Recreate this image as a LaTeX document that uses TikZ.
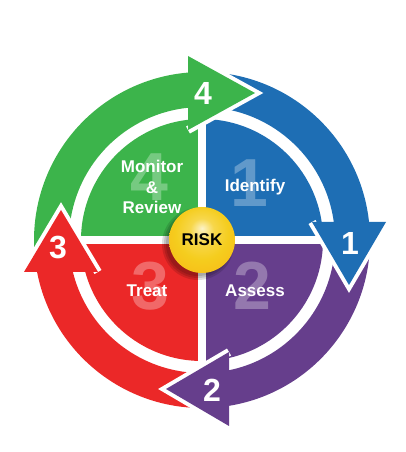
\documentclass[tikz,border=0pt]{standalone}
\usepackage{fontspec}
\setmainfont{Liberation Sans}
\usetikzlibrary{calc}
\definecolor{riskgreen}{RGB}{60,180,75}
\definecolor{riskblue}{RGB}{30,110,180}
\definecolor{riskpurple}{RGB}{102,62,140}
\definecolor{riskred}{RGB}{235,40,40}
\definecolor{riskgold}{RGB}{245,205,30}
\pgfdeclareradialshading{riskball}{\pgfpoint{0bp}{9bp}}{%
  color(0bp)=(riskgold!25!white); color(9bp)=(riskgold!80!white);
  color(20bp)=(riskgold); color(29bp)=(riskgold!85!orange);
  color(34bp)=(riskgold!55!black); color(50bp)=(riskgold!40!black)}

\begin{document}
\begin{tikzpicture}[x=1pt, y=1pt,
      lbl/.style={text=white, font=\fontsize{17}{20.5}\selectfont\bfseries, align=center},
      bignum/.style={text=white, text opacity=.3, font=\fontsize{68}{68}\selectfont\bfseries},
      headnum/.style={text=white, font=\fontsize{32}{32}\selectfont\bfseries},
      gap/.style={draw=white, line width=8pt}]
    \useasboundingbox (0,0) rectangle (406,452);
    \coordinate (c) at (202,212);
    % quadrants
    \fill[riskgreen] (c) -- ++(90:121) arc[start angle=90, end angle=180, radius=121] -- cycle;
    \fill[riskblue] (c) -- ++(0:121) arc[start angle=0, end angle=90, radius=121] -- cycle;
    \fill[riskpurple] (c) -- ++(-90:121) arc[start angle=-90, end angle=0, radius=121] -- cycle;
    \fill[riskred] (c) -- ++(180:121) arc[start angle=180, end angle=270, radius=121] -- cycle;
    \draw[white, line width=8pt] ($(c)+(-125,0)$) -- ($(c)+(125,0)$);
    \draw[white, line width=8pt] ($(c)+(0,-125)$) -- ($(c)+(0,125)$);
    % ring bands
    \fill[riskgreen] ($(c)+(188:168)$) arc[start angle=188, end angle=92, radius=168]
      -- ($(c)+(92:133)$) arc[start angle=92, end angle=188, radius=133] -- cycle;
    \fill[riskblue] ($(c)+(92:168)$) arc[start angle=92, end angle=4, radius=168]
      -- ($(c)+(4:133)$) arc[start angle=4, end angle=92, radius=133] -- cycle;
    \fill[riskpurple] ($(c)+(4:168)$) arc[start angle=4, end angle=-85, radius=168]
      -- ($(c)+(-85:133)$) arc[start angle=-85, end angle=4, radius=133] -- cycle;
    \fill[riskred] ($(c)+(-85:168)$) arc[start angle=-85, end angle=-172, radius=168]
      -- ($(c)+(-172:133)$) arc[start angle=-172, end angle=-85, radius=133] -- cycle;
    % arrow heads
    \draw[gap] (188,396) -- (255,359) -- (188,322);
    \fill[riskgreen] (188,396) -- (255,359) -- (188,322) -- cycle;
    \draw[gap] (312,230) -- (349,167) -- (386,230);
    \fill[riskblue] (312,230) -- (349,167) -- (386,230) -- cycle;
    \draw[gap] (229,100) -- (166,63) -- (229,26);
    \fill[riskpurple] (229,100) -- (166,63) -- (229,26) -- cycle;
    \draw[gap] (24,180) -- (61,242) -- (98,180);
    \fill[riskred] (24,180) -- (61,242) -- (98,180) -- cycle;
    \node[headnum] (h4) at (203,359) {4};
    \node[headnum] (h1) at (350,209) {1};
    \node[headnum] (h2) at (212,62) {2};
    \node[headnum] (h3) at (58,204) {3};
    % quadrant texts
    \node[bignum] (b4) at (149,275) {4};
    \node[bignum] (b1) at (249,269) {1};
    \node[bignum] (b3) at (150,166) {3};
    \node[bignum] (b2) at (252,166) {2};
    \node[lbl] (monitor) at (152,265) {Monitor\\\&\\Review};
    \node[lbl] (identify) at (255,265) {Identify};
    \node[lbl] (treat) at (147,161) {Treat};
    \node[lbl] (assess) at (255,161) {Assess};
    % centre ball
    \foreach \s in {0,2,4}
      \fill[black, opacity=.13] ($(c)+(-4,-4)$) circle (32+\s);
    \shade[shading=riskball] (c) circle (33);
    \node[font=\fontsize{17}{17}\selectfont\bfseries] (risk) at (c) {RISK};
  \end{tikzpicture}
\end{document}
